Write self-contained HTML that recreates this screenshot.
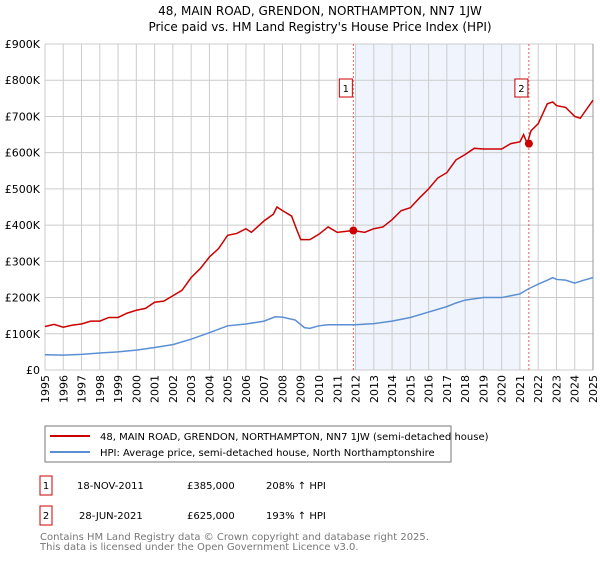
<!DOCTYPE html>
<html><head><meta charset="utf-8"><style>
body{margin:0;background:#fff;font-family:"DejaVu Sans","Liberation Sans",sans-serif;}
svg text{font-family:"DejaVu Sans","Liberation Sans",sans-serif;}
</style></head><body>
<svg id="c" width="600" height="560" viewBox="0 0 600 560" xmlns="http://www.w3.org/2000/svg">
<text x="320" y="15" text-anchor="middle" font-size="12">48, MAIN ROAD, GRENDON, NORTHAMPTON, NN7 1JW</text>
<text x="320" y="31" text-anchor="middle" font-size="12">Price paid vs. HM Land Registry's House Price Index (HPI)</text>
<g id="plot"></g>
<rect x="45" y="426" width="406" height="36" fill="#fff" stroke="#777"/>
<line x1="50" y1="436" x2="90" y2="436" stroke="#cc0000" stroke-width="2"/>
<text x="100" y="440" font-size="10">48, MAIN ROAD, GRENDON, NORTHAMPTON, NN7 1JW (semi-detached house)</text>
<line x1="50" y1="452" x2="90" y2="452" stroke="#5b8fd4" stroke-width="2"/>
<text x="100" y="456" font-size="10">HPI: Average price, semi-detached house, North Northamptonshire</text>
<g>
<rect x="40" y="476" width="12" height="19" fill="#fff" stroke="#cc0000"/>
<text x="46" y="489" font-size="10" text-anchor="middle">1</text>
<text x="77" y="489" font-size="10">18-NOV-2011</text>
<text x="187" y="489" font-size="10">£385,000</text>
<text x="266" y="489" font-size="10">208% ↑ HPI</text>
<rect x="40" y="506" width="12" height="19" fill="#fff" stroke="#cc0000"/>
<text x="46" y="519" font-size="10" text-anchor="middle">2</text>
<text x="79" y="519" font-size="10">28-JUN-2021</text>
<text x="187" y="519" font-size="10">£625,000</text>
<text x="266" y="519" font-size="10">193% ↑ HPI</text>
</g>
<text x="40" y="540" font-size="10" fill="#777">Contains HM Land Registry data © Crown copyright and database right 2025.</text>
<text x="40" y="550" font-size="10" fill="#777">This data is licensed under the Open Government Licence v3.0.</text>
</svg>
<script>
const yTicks=[0,100,200,300,400,500,600,700,800,900];
const yLabels=["£0","£100K","£200K","£300K","£400K","£500K","£600K","£700K","£800K","£900K"];
const years=[1995,1996,1997,1998,1999,2000,2001,2002,2003,2004,2005,2006,2007,2008,2009,2010,2011,2012,2013,2014,2015,2016,2017,2018,2019,2020,2021,2022,2023,2024,2025];
const hpiX=[1995,1996,1997,1998,1999,2000,2001,2002,2003,2004,2005,2006,2007,2007.6,2008,2008.7,2009.2,2009.5,2010,2010.5,2011,2012,2013,2014,2015,2016,2017,2017.5,2018,2019,2020,2020.5,2021,2021.5,2022,2022.5,2022.8,2023,2023.5,2024,2024.5,2025];
const hpiY=[42,41,43,47,50,55,62,70,85,103,122,127,135,147,146,138,117,115,122,125,125,125,128,135,145,160,175,185,193,200,200,205,210,225,237,248,255,250,248,240,248,255];
const redX=[1995,1995.5,1996,1996.5,1997,1997.5,1998,1998.5,1999,1999.5,2000,2000.5,2001,2001.5,2002,2002.5,2003,2003.5,2004,2004.5,2005,2005.5,2006,2006.3,2007,2007.5,2007.7,2008,2008.5,2008.8,2009,2009.5,2010,2010.5,2011,2011.88,2012.5,2013,2013.5,2014,2014.5,2015,2015.5,2016,2016.5,2017,2017.5,2018,2018.5,2019,2020,2020.5,2021,2021.2,2021.4,2021.6,2022,2022.5,2022.8,2023,2023.5,2024,2024.3,2025];
const redY=[120,126,118,124,127,135,135,145,145,157,165,170,187,190,205,220,255,280,312,335,372,377,390,380,412,430,450,440,425,385,360,360,375,395,380,385,380,390,395,415,440,448,475,500,530,545,580,595,612,610,610,625,630,650,625,660,680,735,740,730,725,700,695,745];
const saleX=[2011.88,2021.49];
const saleY=[385,625];
const saleLbl=["1","2"];
const x0=45,x1=593,yb=370,yt=44;
const X=v=>x0+(v-1995)/30*(x1-x0);
const Y=v=>yb-v/900*(yb-yt);
const g=document.getElementById('plot');
const NS="http://www.w3.org/2000/svg";
function mk(t,a){const e=document.createElementNS(NS,t);for(const k in a)e.setAttribute(k,a[k]);g.appendChild(e);return e;}
let e=mk('rect',{x:X(2012),y:yt,width:X(2021)-X(2012),height:yb-yt,fill:'#f0f4fd'});


years.forEach(v=>{const l=mk('line',{x1:X(v),x2:X(v),y1:yt,y2:yb,stroke:'#ccc','stroke-width':1});


const t=mk('text',{x:0,y:0,'font-size':11,'text-anchor':'end',transform:`translate(${X(v)+4},375) rotate(-90)`});t.textContent=v;

});
yTicks.forEach((v,i)=>{const l=mk('line',{x1:x0,x2:x1,y1:Y(v),y2:Y(v),stroke:'#ccc','stroke-width':1});


const t=mk('text',{x:40,y:Y(v)+4,'font-size':11,'text-anchor':'end'});t.textContent=yLabels[i];

});
const ra=mk('line',{x1:x1,x2:x1,y1:yt,y2:yb,stroke:'#999','stroke-width':1});


saleX.forEach((v,i)=>{const l=mk('line',{x1:X(v),x2:X(v),y1:yt,y2:yb,stroke:'#e06060','stroke-dasharray':'2,2'});


const r=mk('rect',{x:X(v)-14,y:79,width:13,height:18,fill:'#fff',stroke:'#cc0000'});


const t=mk('text',{x:X(v)-7.5,y:92,'font-size':10,'text-anchor':'middle'});t.textContent=saleLbl[i];

});
const p1=mk('polyline',{points:hpiX.map((v,i)=>X(v)+','+Y(hpiY[i])).join(' '),fill:'none',stroke:'#5b8fd4','stroke-width':1.5});


const p2=mk('polyline',{points:redX.map((v,i)=>X(v)+','+Y(redY[i])).join(' '),fill:'none',stroke:'#cc0000','stroke-width':1.5});


saleX.forEach((v,i)=>{const c=mk('circle',{cx:X(v),cy:Y(saleY[i]),r:4,fill:'#cc0000'});

});
</script>
</body></html>
